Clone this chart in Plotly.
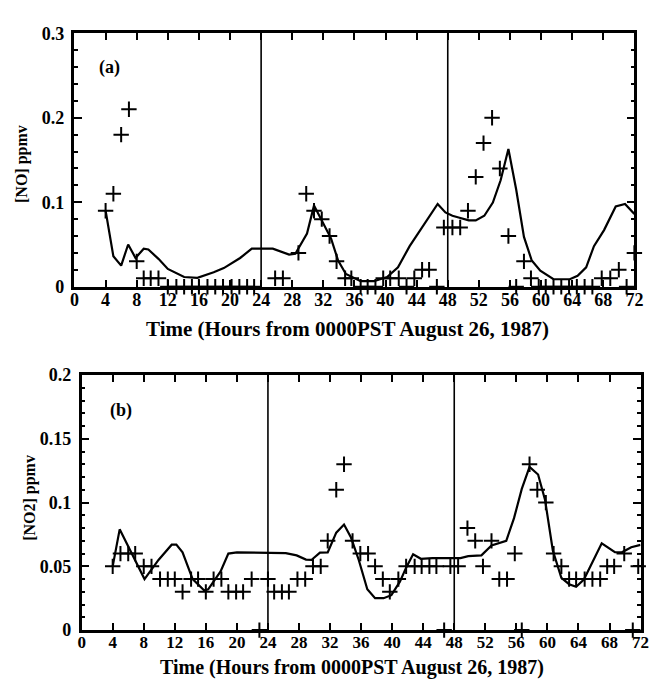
import plotly.graph_objects as go

# ---------------- data: panel (a) [NO] ----------------
no_obs_t = [4.0, 5.0, 6.0, 7.0, 8.0, 8.9, 9.8, 10.8, 12.0, 13.1, 14.1, 15.1, 16.0, 17.1, 18.1,
            19.1, 20.2, 21.2, 22.2, 23.1, 25.8, 26.8, 28.8, 29.8, 30.8, 31.8, 32.8, 33.7, 34.8,
            35.6, 36.8, 37.7, 38.7, 39.7, 40.6, 41.7, 42.7, 43.7, 44.7, 45.6, 46.6, 47.5, 48.6,
            49.6, 50.6, 51.6, 52.6, 53.7, 54.7, 55.8, 56.8, 57.8, 58.7, 59.7, 60.6, 61.6, 62.6,
            63.6, 64.6, 65.6, 66.6, 67.8, 68.9, 70.0, 71.0, 72.0]
no_obs_v = [0.09, 0.11, 0.18, 0.21, 0.03, 0.01, 0.01, 0.01, 0, 0, 0, 0, 0, 0, 0,
            0, 0, 0, 0, 0, 0.01, 0.01, 0.04, 0.11, 0.09, 0.08, 0.06, 0.03, 0.01,
            0.01, 0, 0, 0, 0.01, 0.01, 0.01, 0, 0.01, 0.02, 0.02, 0, 0.07, 0.07,
            0.07, 0.09, 0.13, 0.17, 0.20, 0.14, 0.06, 0, 0.03, 0.01, 0, 0, 0, 0,
            0, 0, 0, 0, 0.01, 0.01, 0.02, 0, 0.04]

no_mod_t = [4.0, 5.0, 6.0, 6.9, 7.85, 8.9, 9.5, 10.8, 12.0, 14.1, 15.8, 17.9, 19.2, 21.3, 22.8,
            25.5, 27.6, 28.4, 29.9, 30.8, 31.6, 33.0, 33.9, 34.9, 36.8, 38.5, 40.2, 41.6, 43.1,
            45.0, 46.7, 47.7, 48.6, 49.4, 50.7, 51.6, 52.7, 53.8, 54.8, 55.8, 56.8, 57.8, 58.8,
            59.9, 61.6, 63.7, 64.7, 65.8, 66.8, 68.1, 69.6, 70.8, 72.0]
no_mod_v = [0.09, 0.036, 0.025, 0.05, 0.034, 0.045, 0.044, 0.033, 0.021, 0.0115, 0.0105, 0.017,
            0.022, 0.034, 0.045, 0.045, 0.038, 0.039, 0.063, 0.096, 0.082, 0.057, 0.031, 0.015,
            0.0065, 0.0065, 0.0115, 0.023, 0.048, 0.075, 0.098, 0.088, 0.084, 0.082, 0.0785,
            0.0785, 0.084, 0.0997, 0.126, 0.163, 0.115, 0.059, 0.031, 0.019, 0.0088, 0.0088,
            0.013, 0.023, 0.048, 0.067, 0.095, 0.098, 0.086]

# ---------------- data: panel (b) [NO2] ----------------
no2_obs_t = [4.0, 5.0, 6.0, 6.9, 8.0, 9.0, 10.1, 11.1, 12.0, 13.0, 14.1, 15.0, 16.0, 17.0, 18.0,
             18.9, 19.9, 20.8, 21.9, 22.9, 24.0, 24.8, 25.8, 26.7, 27.8, 28.8, 29.8, 30.8, 31.7,
             32.8, 33.8, 34.9, 35.9, 36.9, 37.8, 38.8, 39.7, 40.8, 41.8, 42.9, 43.8, 44.8, 45.7,
             46.7, 47.5, 48.5, 49.7, 50.7, 51.7, 52.8, 53.8, 54.8, 55.8, 56.7, 57.7, 58.7, 59.8,
             60.8, 61.8, 62.8, 63.7, 64.8, 65.8, 66.8, 67.7, 68.6, 69.9, 71.0, 71.7]
no2_obs_v = [0.05, 0.06, 0.06, 0.06, 0.05, 0.05, 0.04, 0.04, 0.04, 0.03, 0.04, 0.04, 0.03, 0.04, 0.04,
             0.03, 0.03, 0.03, 0.04, 0, 0.04, 0.03, 0.03, 0.03, 0.04, 0.04, 0.05, 0.05, 0.07,
             0.11, 0.13, 0.07, 0.06, 0.06, 0.05, 0.04, 0.03, 0.04, 0.05, 0.05, 0.05, 0.05, 0.05,
             0, 0.05, 0.05, 0.08, 0.07, 0.05, 0.07, 0.04, 0.04, 0.06, 0, 0.13, 0.11, 0.10,
             0.06, 0.05, 0.04, 0.04, 0.04, 0.04, 0.04, 0.05, 0.05, 0.06, 0, 0.05]

no2_mod_t = [4.0, 4.9, 8.1, 9.9, 11.6, 12.2, 13.0, 14.3, 15.8, 16.3, 17.9, 18.9, 20.0, 26.3, 27.7,
             28.9, 29.6, 30.7, 31.7, 32.8, 33.8, 34.7, 35.7, 36.8, 37.8, 38.9, 39.9, 41.0, 41.8,
             42.7, 43.7, 45.2, 48.8, 49.8, 51.5, 52.8, 54.7, 55.7, 56.7, 57.7, 58.8, 59.7, 60.7,
             61.8, 62.8, 63.7, 64.7, 65.8, 67.0, 68.7, 69.6, 70.8, 72.0]
no2_mod_v = [0.05, 0.079, 0.040, 0.055, 0.067, 0.067, 0.061, 0.040, 0.031, 0.032, 0.046, 0.060,
             0.061, 0.0604, 0.0586, 0.0553, 0.055, 0.0607, 0.061, 0.0764, 0.0828, 0.0726, 0.055,
             0.032, 0.025, 0.025, 0.0274, 0.038, 0.049, 0.0594, 0.0559, 0.0565, 0.0565, 0.058,
             0.0586, 0.0663, 0.070, 0.0878, 0.1107, 0.128, 0.122, 0.102, 0.0624, 0.041, 0.036,
             0.034, 0.0396, 0.0536, 0.068, 0.0612, 0.061, 0.065, 0.0668]

day_boundaries = [24, 48]
x_title = "Time (Hours from 0000PST August 26, 1987)"

W, H = 661, 687
FONT = "Liberation Serif"

def px_x(p):
    return p / W

def px_y(p):
    return 1 - p / H

fig = go.Figure()

marker_style = dict(symbol="cross-thin", size=11, line=dict(width=2, color="black"), color="black")
line_style = dict(color="black", width=2.2)

fig.add_trace(go.Scatter(x=no_obs_t, y=no_obs_v, mode="markers", marker=marker_style,
                         xaxis="x", yaxis="y", cliponaxis=False, showlegend=False))
fig.add_trace(go.Scatter(x=no_mod_t, y=no_mod_v, mode="lines", line=line_style,
                         xaxis="x", yaxis="y", showlegend=False))
fig.add_trace(go.Scatter(x=no2_obs_t, y=no2_obs_v, mode="markers", marker=marker_style,
                         xaxis="x2", yaxis="y2", cliponaxis=False, showlegend=False))
fig.add_trace(go.Scatter(x=no2_mod_t, y=no2_mod_v, mode="lines", line=line_style,
                         xaxis="x2", yaxis="y2", showlegend=False))

tickfont = dict(family=FONT, size=18, color="black", weight="bold")
tickfont_b = dict(family=FONT, size=17, color="black", weight="bold")

common_x = dict(range=[0, 72], dtick=4, tick0=0, ticks="inside", ticklen=7, tickwidth=2,
                tickcolor="black", mirror="allticks", showline=True, linewidth=2.5,
                linecolor="black", showgrid=False, zeroline=False)
common_y = dict(ticks="inside", ticklen=8, tickwidth=2, tickcolor="black", mirror="allticks",
                showline=True, linewidth=2.5, linecolor="black", showgrid=False,
                zeroline=False, tickfont=tickfont, ticklabelstandoff=4)

fig.update_layout(
    width=W, height=H, autosize=False,
    margin=dict(l=0, r=0, t=0, b=0),
    paper_bgcolor="white", plot_bgcolor="white",
    xaxis=dict(domain=[px_x(71), px_x(643)], anchor="y", ticklabelstandoff=-5,
               tickfont=tickfont, **common_x),
    yaxis=dict(domain=[px_y(285), px_y(24)], anchor="x", range=[0, 0.3], dtick=0.1, tick0=0,
               minor=dict(dtick=0.02, ticks="inside", ticklen=4, tickwidth=1.5, tickcolor="black"),
               **common_y),
    xaxis2=dict(domain=[px_x(78.3), px_x(649.3)], anchor="y2", ticklabelstandoff=-5,
                tickfont=tickfont_b, **common_x),
    yaxis2=dict(domain=[px_y(638.7), px_y(376)], anchor="x2", range=[0, 0.2], dtick=0.05, tick0=0,
                minor=dict(dtick=0.01, ticks="inside", ticklen=4, tickwidth=1.5, tickcolor="black"),
                **common_y),
)

shapes = []
for xr, yr in (("x", "y domain"), ("x2", "y2 domain")):
    for b in day_boundaries:
        shapes.append(dict(type="line", xref=xr, yref=yr, x0=b, x1=b, y0=0, y1=1,
                           line=dict(color="black", width=1.6)))
fig.update_layout(shapes=shapes)

ann_font = dict(family=FONT, color="black", weight="bold")
annotations = [
    dict(text="(a)", x=px_x(107), y=px_y(59), font=dict(size=18, **ann_font)),
    dict(text="(b)", x=px_x(119), y=px_y(412), font=dict(size=18, **ann_font)),
    dict(text=x_title, x=px_x(350), y=px_y(329), font=dict(size=21, **ann_font)),
    dict(text=x_title, x=px_x(355), y=px_y(677), font=dict(size=20, **ann_font)),
    dict(text="[NO] ppmv", x=px_x(18), y=px_y(159), textangle=-90, font=dict(size=16, **ann_font)),
    dict(text="[NO2] ppmv", x=px_x(26), y=px_y(502), textangle=-90, font=dict(size=16, **ann_font)),
]
for a in annotations:
    a.update(xref="paper", yref="paper", showarrow=False, xanchor="center", yanchor="middle")
fig.update_layout(annotations=annotations)

fig.write_html("out.html")
